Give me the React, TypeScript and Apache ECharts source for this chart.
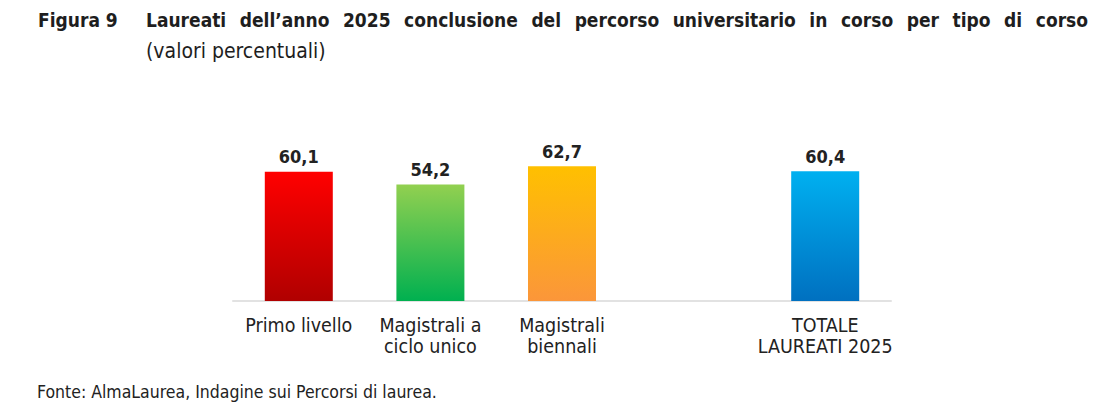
import React, { useEffect, useRef } from "react";
import * as echarts from "echarts";

const FONT = "'DejaVu Sans Condensed', 'DejaVu Sans', sans-serif";

const categories = ["Primo livello", "Magistrali a\nciclo unico", "Magistrali\nbiennali", "", "TOTALE\nLAUREATI 2025"];
const values: (number | null)[] = [60.1, 54.2, 62.7, null, 60.4];
const topColors = ["#ff0000", "#92d050", "#ffc000", "", "#00b0f0"];
const bottomColors = ["#b00000", "#00b050", "#fb963a", "", "#0070c0"];

const figLabel = "Figura 9";
const titleText = "Laureati dell’anno 2025 conclusione del percorso universitario in corso per tipo di corso";
const subtitleText = "(valori percentuali)";
const sourceText = "Fonte: AlmaLaurea, Indagine sui Percorsi di laurea.";

function measure(text: string, font: string): number {
  const c = document.createElement("canvas");
  const ctx = c.getContext("2d");
  if (!ctx) return text.length * 10;
  ctx.font = font;
  return ctx.measureText(text).width;
}

export default function App() {
  const ref = useRef<HTMLDivElement>(null);
  useEffect(() => {
    if (!ref.current) return;
    const chart = echarts.init(ref.current, null, { renderer: "svg" });

    const titleFont = `bold 19px ${FONT}`;
    const words = titleText.split(" ");
    const startX = 146;
    const endX = 1088;
    const widths = words.map((w) => measure(w, titleFont));
    const total = widths.reduce((a, b) => a + b, 0);
    const gap = (endX - startX - total) / (words.length - 1);
    const wordEls: any[] = [];
    let cx = startX;
    words.forEach((w, i) => {
      wordEls.push({
        type: "text",
        x: cx,
        y: 20,
        style: { text: w, fill: "#1e1e1e", font: titleFont, align: "left", verticalAlign: "middle" },
      });
      cx += widths[i] + gap;
    });

    chart.setOption({
      animation: false,
      grid: { left: 233, right: 214, top: 150.5, bottom: 111, containLabel: false },
      xAxis: {
        type: "category",
        data: categories,
        axisLine: { show: true, lineStyle: { color: "#e2e2e2", width: 2 } },
        axisTick: { show: false },
        axisLabel: {
          interval: 0,
          color: "#222",
          fontSize: 19.5,
          fontFamily: FONT,
          lineHeight: 21,
          margin: 14,
          align: "center",
        },
      },
      yAxis: { type: "value", min: 0, max: 70, show: false, splitLine: { show: false } },
      series: [
        {
          type: "bar",
          barWidth: 68,
          data: values.map((v, i) =>
            v === null
              ? null
              : {
                  value: v,
                  itemStyle: {
                    color: new echarts.graphic.LinearGradient(0, 0, 0, 1, [
                      { offset: 0, color: topColors[i] },
                      { offset: 1, color: bottomColors[i] },
                    ]),
                  },
                }
          ),
          label: {
            show: true,
            position: "top",
            distance: 6,
            color: "#222",
            fontSize: 18,
            fontWeight: "bold",
            fontFamily: FONT,
            formatter: (p: any) => Number(p.value).toFixed(1).replace(".", ","),
          },
        },
      ],
      graphic: [
        {
          type: "text",
          x: 38,
          y: 20,
          style: { text: figLabel, fill: "#1e1e1e", font: titleFont, align: "left", verticalAlign: "middle" },
        },
        ...wordEls,
        {
          type: "text",
          x: 146,
          y: 51,
          style: { text: subtitleText, fill: "#1e1e1e", font: `21px ${FONT}`, align: "left", verticalAlign: "middle" },
        },
        {
          type: "text",
          x: 37,
          y: 392,
          style: { text: sourceText, fill: "#222", font: `17.5px ${FONT}`, align: "left", verticalAlign: "middle" },
        },
      ],
    });
    return () => chart.dispose();
  }, []);
  return <div ref={ref} style={{ position: "absolute", left: 0, top: 0, width: 1105, height: 412, background: "#fff" }} />;
}
